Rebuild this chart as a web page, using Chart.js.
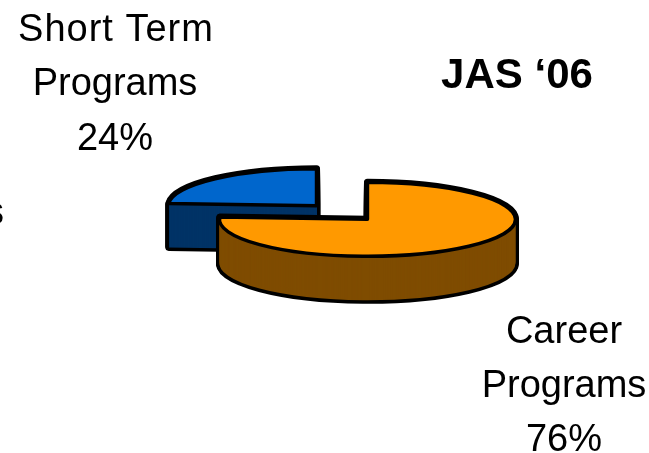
<!DOCTYPE html>
<html>
<head>
<meta charset="utf-8">
<style>
html,body{margin:0;padding:0;background:#fff;overflow:hidden}
#wrap{position:relative;width:649px;height:453px}
</style>
<script src="https://cdn.jsdelivr.net/npm/chart.js@4"></script>
</head>
<body>
<div id="wrap"><canvas id="c" width="649" height="453"></canvas></div>
<script>
const categories = ["Career Programs", "Short Term Programs"];
const shares = [76, 24];
const topColors = ["#FF9900", "#0066CC"];
const wallColors = ["#7F4C00", "#003366"];
const chartTitle = "JAS \u201806";
const strayLabel = "s";
const labelLines = [
  ["Career", "Programs", "76%"],
  ["Short Term", "Programs", "24%"]
];

const SQUASH = 0.25, DEPTH = 44, MID_Y = 212.5, LINE = 3.5, EXPLODE = 37.2;

function drawArc(ctx, el, opts, dy, lineW) {
  const orig = el.options;
  el.options = Object.assign({}, orig, opts);
  const mid = (el.startAngle + el.endAngle) / 2;
  const stroke = ctx.stroke;
  ctx.stroke = function () {
    ctx.save();
    ctx.setTransform(1, 0, 0, 1, 0, 0);
    ctx.lineWidth = lineW;
    ctx.lineJoin = "round";
    stroke.call(ctx);
    ctx.restore();
  };
  ctx.save();
  ctx.setTransform(1, 0, 0, SQUASH,
    Math.cos(mid) * EXPLODE,
    MID_Y - SQUASH * el.y + SQUASH * Math.sin(mid) * EXPLODE + dy);
  el.draw(ctx);
  ctx.restore();
  delete ctx.stroke;
  el.options = orig;
}

const pie3d = {
  id: "pie3d",
  beforeDatasetsDraw(chart) {
    const ctx = chart.ctx;
    const arcs = chart.getDatasetMeta(0).data;
    [1, 0].forEach(i => {
      const el = arcs[i];
      for (let d = DEPTH; d >= 0; d--) {
        drawArc(ctx, el, {backgroundColor: "#000", borderColor: "#000", borderWidth: 1}, d, LINE * 2);
      }
      for (let d = DEPTH; d >= 0; d--) {
        drawArc(ctx, el, {backgroundColor: wallColors[i], borderWidth: 0}, d, 0);
      }
      drawArc(ctx, el, {backgroundColor: topColors[i], borderColor: "#000", borderWidth: 1}, 0, LINE);
    });
    return false;
  }
};

const textLabels = {
  id: "textLabels",
  afterDraw(chart) {
    const ctx = chart.ctx;
    ctx.save();
    ctx.fillStyle = "#000";
    ctx.textBaseline = "alphabetic";
    ctx.textAlign = "center";
    ctx.font = "38px 'Liberation Sans'";
    [[564, [343, 397, 451]], [116, [41, 95, 150]]].forEach((p, i) => {
      labelLines[i].forEach((t, j) => {
        ctx.letterSpacing = t === "Short Term" ? "1px" : "0px";
        ctx.fillText(t, j === 0 ? p[0] : p[0] - i, p[1][j]);
      });
    });
    ctx.letterSpacing = "0px";
    ctx.font = "bold 42px 'Liberation Sans'";
    ctx.fillText(chartTitle, 517, 88);
    ctx.font = "38px 'Liberation Sans'";
    ctx.textAlign = "right";
    ctx.fillText(strayLabel, 4, 224);
    ctx.restore();
  }
};

new Chart(document.getElementById("c"), {
  type: "pie",
  data: {
    labels: categories,
    datasets: [{
      data: shares,
      backgroundColor: topColors,
      radius: 148,
      borderWidth: 1,
      borderColor: "#000"
    }]
  },
  options: {
    responsive: false,
    animation: false,
    events: [],
    layout: {padding: {left: 35}},
    plugins: {legend: {display: false}, tooltip: {enabled: false}, title: {display: false}}
  },
  plugins: [pie3d, textLabels]
});
</script>
</body>
</html>
